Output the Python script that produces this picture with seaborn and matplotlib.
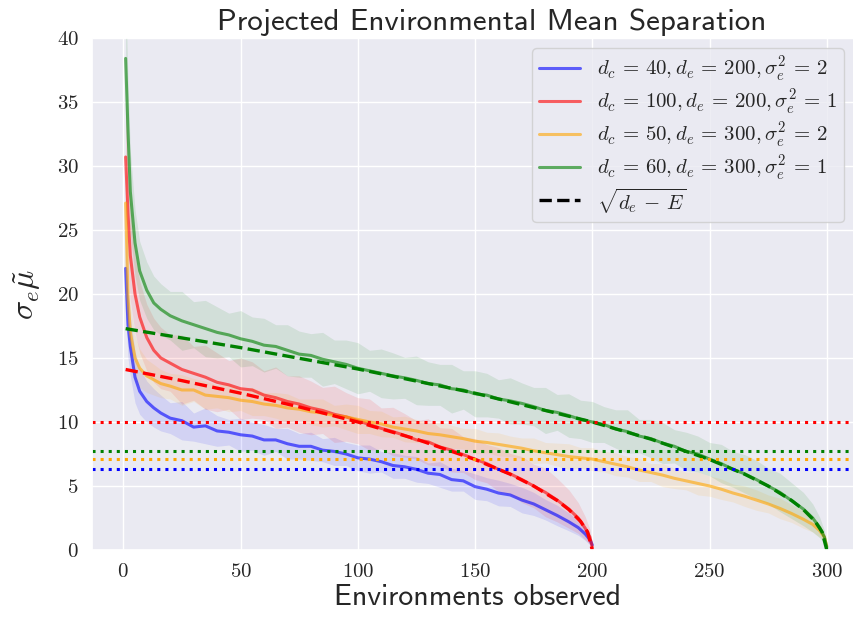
import matplotlib
matplotlib.use("Agg")
import matplotlib.pyplot as plt
from matplotlib.lines import Line2D
import numpy as np
import seaborn as sns

x200 = [1, 2, 3, 5, 7, 10, 13, 16,
        20, 25, 30, 35, 40, 45, 50, 55, 60, 65, 70, 75, 80, 85, 90, 95, 100,
        105, 110, 115, 120, 125, 130, 135, 140, 145, 150, 155, 160, 165, 170,
        175, 180, 185, 190,
        194, 197, 199, 200]
x300 = [1, 2, 3, 5, 7, 10, 13, 16,
        20, 25, 30, 35, 40, 45, 50, 55, 60, 65, 70, 75, 80, 85, 90, 95, 100,
        105, 110, 115, 120, 125, 130, 135, 140, 145, 150, 155, 160, 165, 170,
        175, 180, 185, 190, 195, 200, 205, 210, 215, 220, 225, 230, 235, 240,
        245, 250, 255, 260, 265, 270, 275, 280, 285, 290,
        294, 297, 299, 300]

# mean curves
blue_mean = [22.0, 17.6, 15.9, 13.5, 12.4, 11.6, 11.1, 10.7,
             10.3, 10.1, 9.6, 9.7, 9.3, 9.2, 9.0, 8.9, 8.6, 8.6, 8.3, 8.1, 8.1,
             7.8, 7.7, 7.5, 7.2, 7.1, 6.9, 6.6, 6.5, 6.3, 6.0, 5.9, 5.5, 5.4,
             4.95, 4.75, 4.45, 4.3, 3.9, 3.6, 3.15, 2.7, 2.2,
             1.75, 1.25, 0.8, 0.4]
red_mean = [30.7, 26.3, 23.0, 20.0, 18.2, 16.6, 15.6, 15.0,
            14.6, 14.1, 13.8, 13.5, 13.1, 12.9, 12.6, 12.5, 12.1, 11.9, 11.6,
            11.4, 11.1, 10.9, 10.6, 10.4, 10.1, 9.8, 9.5, 9.25, 8.95, 8.6, 8.45,
            8.05, 7.8, 7.45, 7.1, 6.75, 6.3, 5.95, 5.5, 5.0, 4.5, 3.9, 3.2,
            2.5, 1.7, 1.0, 0.2]
orange_mean = [27.1, 19.8, 17.0, 15.0, 14.2, 13.6, 13.3, 13.0,
               12.8, 12.5, 12.5, 12.1, 12.0, 11.9, 11.7, 11.6, 11.4, 11.3,
               11.1, 11.0, 10.8, 10.7, 10.5, 10.4, 10.2, 10.0, 9.85, 9.6, 9.45,
               9.3, 9.1, 9.0, 8.85, 8.7, 8.5, 8.4, 8.25, 8.1, 7.95, 7.75, 7.6,
               7.45, 7.3, 7.2, 7.1, 6.9, 6.7, 6.5, 6.25, 6.05, 5.85, 5.6, 5.4,
               5.2, 5.0, 4.75, 4.45, 4.2, 3.9, 3.6, 3.25, 2.85, 2.4,
               2.0, 1.5, 1.0, 0.3]
green_mean = [38.4, 32.8, 28.0, 24.0, 21.8, 20.3, 19.3, 18.8,
              18.3, 17.9, 17.6, 17.3, 17.0, 16.8, 16.5, 16.3, 16.0, 15.9,
              15.6, 15.3, 15.2, 14.9, 14.7, 14.5, 14.2, 14.0, 13.8, 13.6, 13.45,
              13.25, 13.0, 12.9, 12.6, 12.5, 12.2, 12.1, 11.8, 11.65, 11.45,
              11.2, 10.9, 10.75, 10.5, 10.2, 10.0, 9.8, 9.45, 9.25, 8.9, 8.7,
              8.35, 8.1, 7.7, 7.5, 7.1, 6.75, 6.3, 5.95, 5.5, 5.0, 4.5, 3.85, 3.2,
              2.5, 1.75, 1.0, 0.2]

# half widths of the shaded bands
blue_sd = [3.0, 2.6, 2.3, 2.0, 1.8, 1.6, 1.5, 1.4,
           1.2, 1.5, 1.1, 1.4, 1.2, 1.0, 1.3, 1.1, 1.2, 0.9,
           1.2, 1.0, 1.1, 0.9, 1.1, 0.9, 1.0, 1.1, 0.8, 1.0,
           0.9, 1.0, 0.8, 1.0, 0.9, 0.8, 1.0, 0.9, 1.0, 0.9,
           1.0, 0.9, 0.8, 0.8, 0.7,
           0.6, 0.5, 0.4, 0.3]
red_sd = [4.5, 4.0, 3.5, 3.0, 2.8, 2.6, 2.5, 2.4,
          2.2, 2.7, 2.1, 2.5, 2.3, 1.9, 2.4, 2.2, 1.9, 2.4,
          2.0, 2.2, 2.1, 1.8, 2.2, 1.9, 1.8, 2.0, 1.6, 1.9,
          1.7, 1.5, 1.8, 1.5, 1.7, 1.4, 1.6, 1.5, 1.7, 1.6,
          1.8, 1.7, 1.9, 1.7, 1.5,
          1.2, 0.9, 0.6, 0.3]
orange_sd = [3.5, 2.8, 2.2, 1.8, 1.5, 1.3, 1.2, 1.1,
             1.0, 1.2, 0.9, 1.1, 0.9, 1.1, 0.8, 1.1, 0.9, 1.0,
             1.1, 0.8, 1.0, 1.1, 0.8, 1.0, 1.1, 0.9, 1.0, 0.8,
             1.0, 0.9, 0.8, 1.0, 0.9, 0.8, 1.0, 0.8, 0.9, 0.8,
             0.8, 1.0, 0.8, 0.9, 1.0, 0.8, 0.9, 0.8, 0.9, 0.8,
             0.9, 0.7, 0.9, 0.8, 0.7, 0.9, 0.8, 0.8, 0.7, 0.8,
             0.8, 0.7, 0.8, 0.7, 0.7,
             0.6, 0.5, 0.3, 0.2]
green_sd = [5.0, 4.0, 3.2, 2.6, 2.3, 2.2, 2.1, 2.0,
            1.9, 2.3, 1.8, 2.2, 2.0, 1.7, 2.2, 1.9, 2.1, 1.7,
            2.0, 1.8, 1.7, 2.1, 1.7, 1.9, 2.0, 1.6, 1.9, 1.8,
            1.6, 1.9, 1.7, 1.6, 1.9, 1.5, 1.8, 1.7, 1.5, 1.8,
            1.6, 1.5, 1.8, 1.4, 1.7, 1.5, 1.6, 1.4, 1.5, 1.7,
            1.3, 1.5, 1.6, 1.3, 1.5, 1.4, 1.3, 1.5, 1.4, 1.5,
            1.5, 1.4, 1.5, 1.4, 1.3,
            1.1, 0.8, 0.5, 0.2]

# sqrt(d_e - E) reference curves, read at a few points
dash_x200 = [1, 25, 50, 75, 100, 125, 150, 165, 175, 185, 190, 195, 198, 200]
dash_y200 = [14.1, 13.23, 12.25, 11.18, 10.0, 8.66, 7.07, 5.92, 5.0, 3.87,
             3.16, 2.24, 1.41, 0.0]
dash_x300 = [1, 50, 100, 150, 200, 225, 250, 265, 275, 285, 290, 295, 298, 300]
dash_y300 = [17.29, 15.81, 14.14, 12.25, 10.0, 8.66, 7.07, 5.92, 5.0, 3.87,
             3.16, 2.24, 1.41, 0.0]

# dotted levels sqrt(d_c)
levels = [6.32, 10.0, 7.07, 7.75]

colors = ["blue", "red", "orange", "green"]
labels = [r"$d_c\,=\,40,d_e\,=\,200,\sigma_e^2\,=\,2$",
          r"$d_c\,=\,100,d_e\,=\,200,\sigma_e^2\,=\,1$",
          r"$d_c\,=\,50,d_e\,=\,300,\sigma_e^2\,=\,2$",
          r"$d_c\,=\,60,d_e\,=\,300,\sigma_e^2\,=\,1$"]
ref_label = r"$\sqrt{d_e\,-\,E}$"

sns.set_theme(style="darkgrid")
plt.rcParams["font.family"] = "serif"
plt.rcParams["font.serif"] = ["cmr10"]
plt.rcParams["mathtext.fontset"] = "cm"
plt.rcParams["axes.formatter.use_mathtext"] = True

fig = plt.figure(figsize=(8.54, 6.26), dpi=100)
ax = fig.add_axes([0.1077, 0.1214, 0.8923, 0.818])

series = [(x200, blue_mean, blue_sd), (x200, red_mean, red_sd),
          (x300, orange_mean, orange_sd), (x300, green_mean, green_sd)]

for (xs, m, sd), c in zip(series, colors):
    m = np.array(m)
    sd = np.array(sd)
    ax.fill_between(xs, m - sd, m + sd, color=c, alpha=0.1, lw=0)
    sns.lineplot(x=xs, y=m, color=c, alpha=0.6, lw=2.2, ax=ax)

sns.lineplot(x=dash_x200, y=dash_y200, color="red", ls="--", lw=2.4, ax=ax)
sns.lineplot(x=dash_x300, y=dash_y300, color="green", ls="--", lw=2.4, ax=ax)

for lv, c in zip(levels, colors):
    ax.axhline(lv, color=c, ls=":", lw=2.2)

ax.set_xlim(-13.35, 311.6)
ax.set_ylim(0, 40)
ax.set_xticks([0, 50, 100, 150, 200, 250, 300])
ax.set_yticks([0, 5, 10, 15, 20, 25, 30, 35, 40])
ax.tick_params(labelsize=15)

ax.set_title("Projected Environmental Mean Separation", fontsize=22.3,
             family="cmss10", x=0.524)
ax.set_xlabel("Environments observed", fontsize=21.5, family="cmss10",
              labelpad=2, x=0.506)
ax.set_ylabel(r"$\sigma_e \tilde{\mu}$", fontsize=23, labelpad=10)

handles = [Line2D([], [], color=c, alpha=0.6, lw=2.2) for c in colors]
handles.append(Line2D([], [], color="black", ls="--", lw=2.4))
# last row gets a hidden placeholder of normal height, the radical is drawn on top
leg = ax.legend(handles, labels + [labels[0]], loc="upper right",
                fontsize=15, labelspacing=0.17, borderpad=0.3,
                handlelength=2.0, borderaxespad=0.5)

fig.canvas.draw()
slot = leg.get_texts()[4]
bb = slot.get_window_extent()
slot.set_visible(False)
W, H = fig.get_size_inches() * fig.dpi
fig.text(bb.x0 / W, (bb.y0 + bb.y1) / 2 / H, ref_label, fontsize=15,
         va="center", ha="left", color="0.15")

fig.savefig("out.png", dpi=100)
